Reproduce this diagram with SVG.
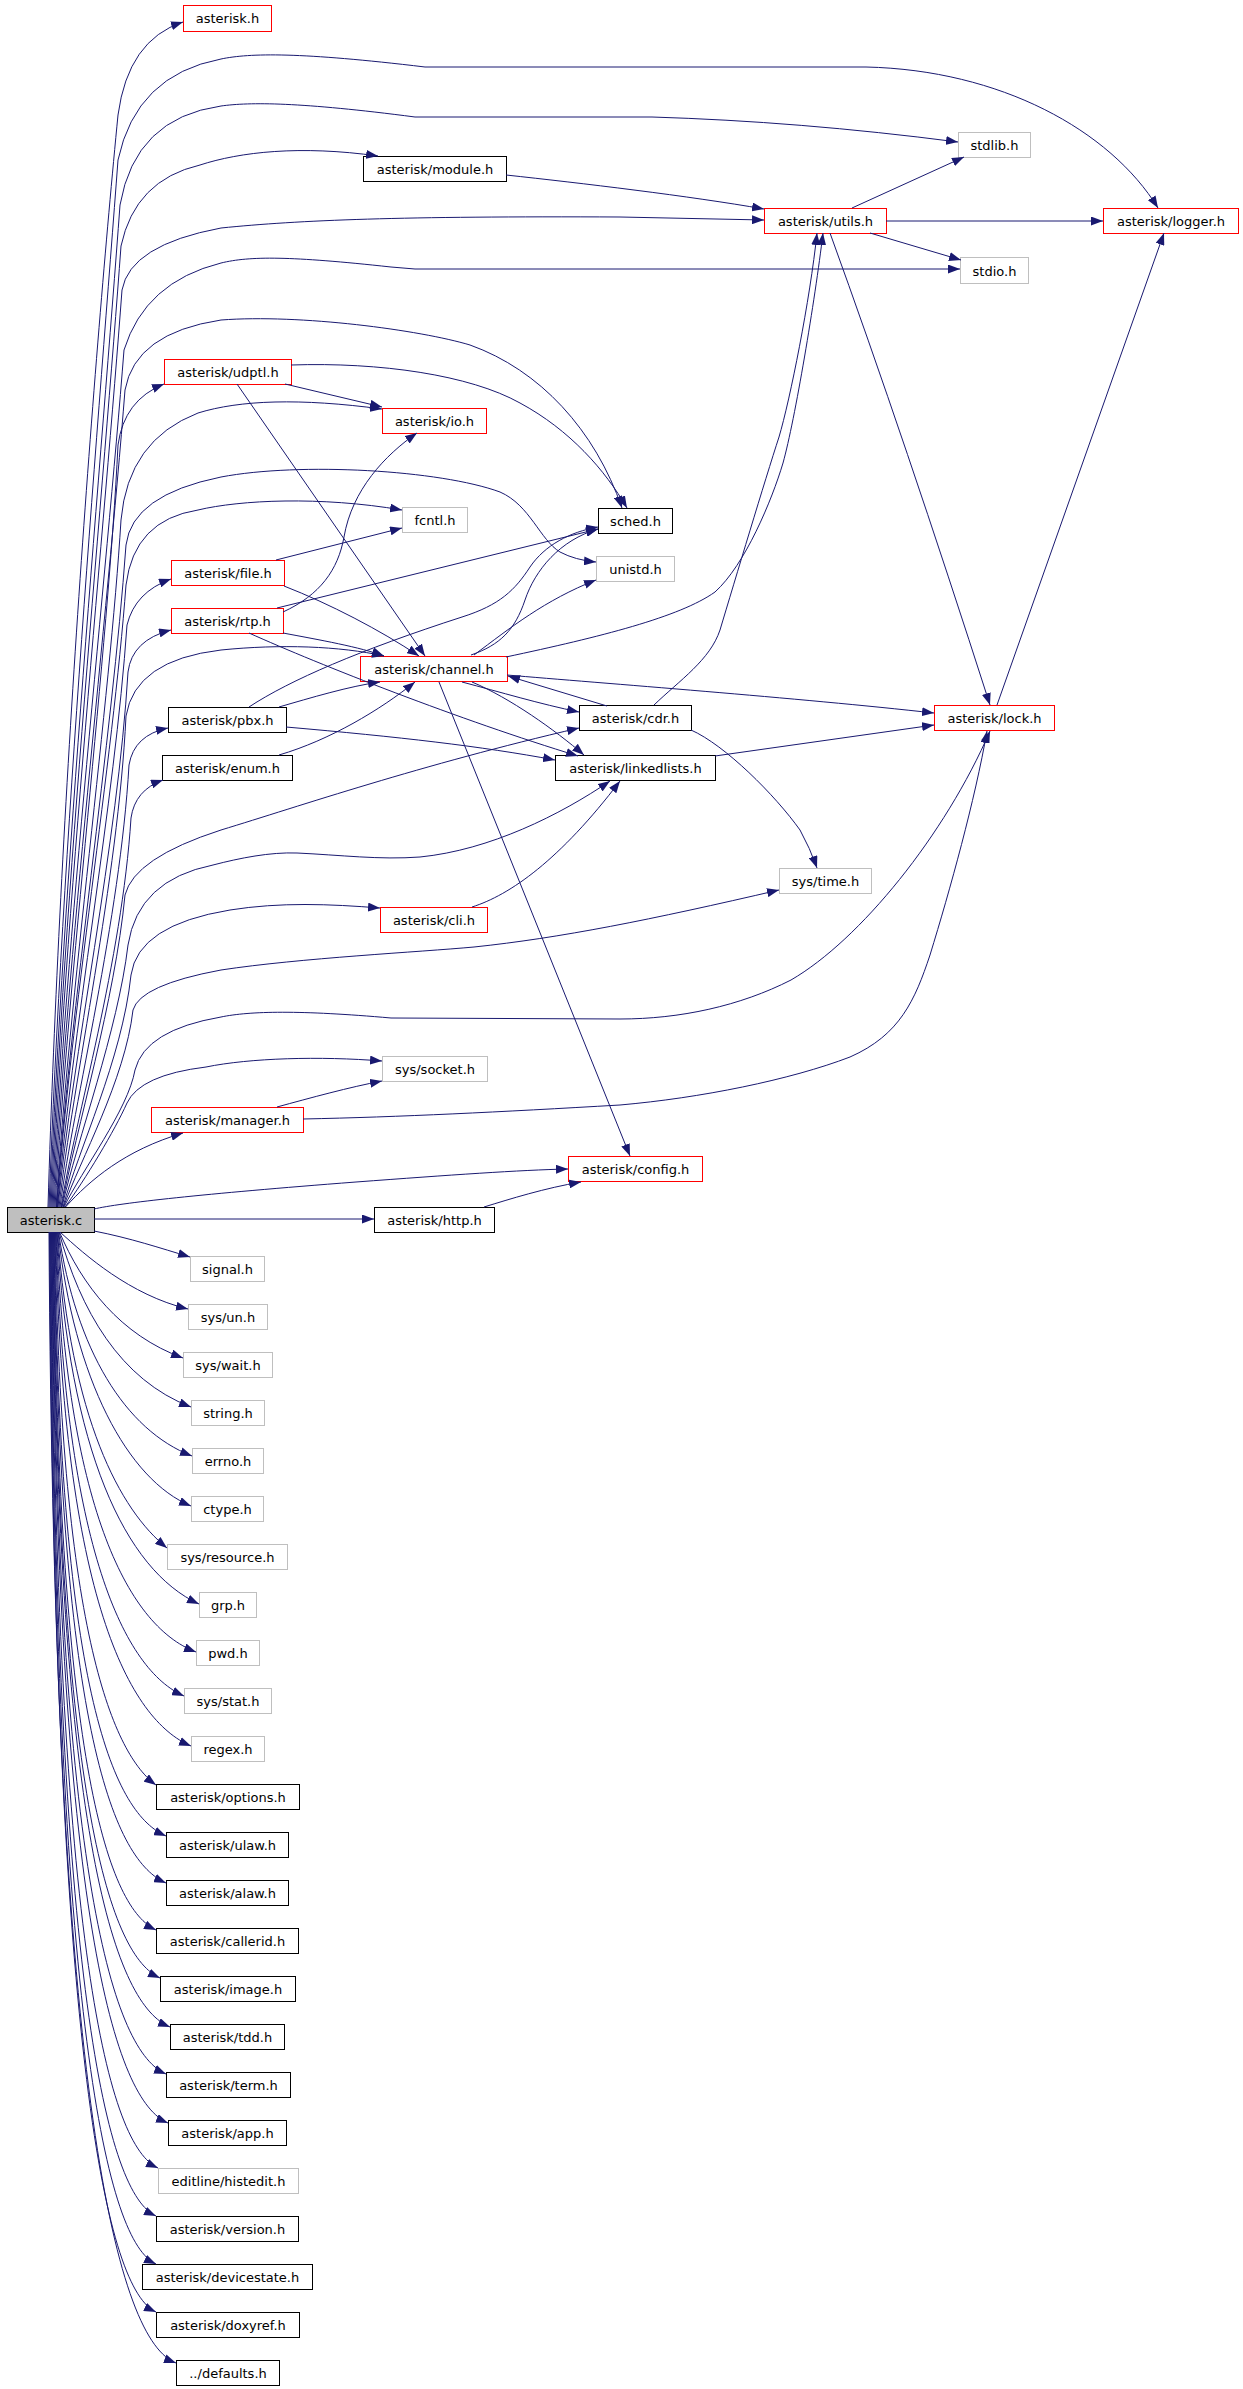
<svg xmlns="http://www.w3.org/2000/svg" width="1243" height="2389" viewBox="0 0 1243 2389">
<style>
.n rect{fill:#fff;stroke-width:1}
.r rect{stroke:#ff0000}
.k rect{stroke:#000}
.g rect{stroke:#bfbfbf}
.c rect{fill:#bfbfbf;stroke:#000}
text{font-family:"DejaVu Sans","Liberation Sans",sans-serif;font-size:13px;text-anchor:middle;fill:#000}
#edges path{fill:none;stroke:#191970;stroke-width:1;marker-end:url(#a)}
</style>
<defs>
<marker id="a" markerUnits="userSpaceOnUse" markerWidth="12" markerHeight="9" refX="12" refY="4.5" orient="auto" viewBox="0 0 12 9"><path d="M0,0L12,4.5L0,9z" fill="#191970"/></marker>
</defs>
<rect width="1243" height="2389" fill="#fff"/>
<g id="n_asterisk_h" class="n r"><rect x="183.5" y="5.5" width="88" height="26"/><text x="227.5" y="23">asterisk.h</text></g>
<g id="n_module_h" class="n k"><rect x="363.5" y="156.5" width="143" height="25"/><text x="435" y="174">asterisk/module.h</text></g>
<g id="n_stdlib_h" class="n g"><rect x="958.5" y="132.5" width="72" height="25"/><text x="994.5" y="150">stdlib.h</text></g>
<g id="n_utils_h" class="n r"><rect x="764.5" y="208.5" width="122" height="25"/><text x="825.5" y="226">asterisk/utils.h</text></g>
<g id="n_logger_h" class="n r"><rect x="1103.5" y="208.5" width="135" height="25"/><text x="1171" y="226">asterisk/logger.h</text></g>
<g id="n_stdio_h" class="n g"><rect x="960.5" y="257.5" width="68" height="26"/><text x="994.5" y="275.5">stdio.h</text></g>
<g id="n_udptl_h" class="n r"><rect x="164.5" y="359.5" width="127" height="25"/><text x="228" y="377">asterisk/udptl.h</text></g>
<g id="n_io_h" class="n r"><rect x="382.5" y="408.5" width="104" height="25"/><text x="434.5" y="426">asterisk/io.h</text></g>
<g id="n_fcntl_h" class="n g"><rect x="402.5" y="507.5" width="65" height="25"/><text x="435" y="525">fcntl.h</text></g>
<g id="n_sched_h" class="n k"><rect x="598.5" y="508.5" width="74" height="25"/><text x="635.5" y="526">sched.h</text></g>
<g id="n_unistd_h" class="n g"><rect x="596.5" y="556.5" width="78" height="25"/><text x="635.5" y="574">unistd.h</text></g>
<g id="n_file_h" class="n r"><rect x="171.5" y="560.5" width="113" height="25"/><text x="228" y="578">asterisk/file.h</text></g>
<g id="n_rtp_h" class="n r"><rect x="171.5" y="608.5" width="112" height="25"/><text x="227.5" y="626">asterisk/rtp.h</text></g>
<g id="n_channel_h" class="n r"><rect x="360.5" y="656.5" width="147" height="25"/><text x="434" y="674">asterisk/channel.h</text></g>
<g id="n_pbx_h" class="n k"><rect x="168.5" y="707.5" width="118" height="25"/><text x="227.5" y="725">asterisk/pbx.h</text></g>
<g id="n_cdr_h" class="n k"><rect x="579.5" y="705.5" width="112" height="25"/><text x="635.5" y="723">asterisk/cdr.h</text></g>
<g id="n_enum_h" class="n k"><rect x="162.5" y="755.5" width="130" height="25"/><text x="227.5" y="773">asterisk/enum.h</text></g>
<g id="n_linkedlists_h" class="n k"><rect x="555.5" y="755.5" width="160" height="25"/><text x="635.5" y="773">asterisk/linkedlists.h</text></g>
<g id="n_lock_h" class="n r"><rect x="934.5" y="705.5" width="120" height="25"/><text x="994.5" y="723">asterisk/lock.h</text></g>
<g id="n_cli_h" class="n r"><rect x="380.5" y="907.5" width="107" height="25"/><text x="434" y="925">asterisk/cli.h</text></g>
<g id="n_systime_h" class="n g"><rect x="779.5" y="868.5" width="92" height="25"/><text x="825.5" y="886">sys/time.h</text></g>
<g id="n_syssocket_h" class="n g"><rect x="382.5" y="1056.5" width="105" height="25"/><text x="435" y="1074">sys/socket.h</text></g>
<g id="n_manager_h" class="n r"><rect x="151.5" y="1107.5" width="152" height="25"/><text x="227.5" y="1125">asterisk/manager.h</text></g>
<g id="n_config_h" class="n r"><rect x="568.5" y="1156.5" width="134" height="25"/><text x="635.5" y="1174">asterisk/config.h</text></g>
<g id="n_asterisk_c" class="n c"><rect x="7.5" y="1207.5" width="87" height="25"/><text x="51" y="1225">asterisk.c</text></g>
<g id="n_http_h" class="n k"><rect x="374.5" y="1207.5" width="120" height="25"/><text x="434.5" y="1225">asterisk/http.h</text></g>
<g id="n_signal_h" class="n g"><rect x="190.5" y="1256.5" width="74" height="25"/><text x="227.5" y="1274">signal.h</text></g>
<g id="n_sysun_h" class="n g"><rect x="188.5" y="1304.5" width="79" height="25"/><text x="228" y="1322">sys/un.h</text></g>
<g id="n_syswait_h" class="n g"><rect x="183.5" y="1352.5" width="89" height="25"/><text x="228" y="1370">sys/wait.h</text></g>
<g id="n_string_h" class="n g"><rect x="191.5" y="1400.5" width="73" height="25"/><text x="228" y="1418">string.h</text></g>
<g id="n_errno_h" class="n g"><rect x="192.5" y="1448.5" width="71" height="25"/><text x="228" y="1466">errno.h</text></g>
<g id="n_ctype_h" class="n g"><rect x="191.5" y="1496.5" width="72" height="25"/><text x="227.5" y="1514">ctype.h</text></g>
<g id="n_sysresource_h" class="n g"><rect x="167.5" y="1544.5" width="120" height="25"/><text x="227.5" y="1562">sys/resource.h</text></g>
<g id="n_grp_h" class="n g"><rect x="199.5" y="1592.5" width="57" height="25"/><text x="228" y="1610">grp.h</text></g>
<g id="n_pwd_h" class="n g"><rect x="196.5" y="1640.5" width="63" height="25"/><text x="228" y="1658">pwd.h</text></g>
<g id="n_sysstat_h" class="n g"><rect x="184.5" y="1688.5" width="87" height="25"/><text x="228" y="1706">sys/stat.h</text></g>
<g id="n_regex_h" class="n g"><rect x="191.5" y="1736.5" width="73" height="25"/><text x="228" y="1754">regex.h</text></g>
<g id="n_options_h" class="n k"><rect x="156.5" y="1784.5" width="143" height="25"/><text x="228" y="1802">asterisk/options.h</text></g>
<g id="n_ulaw_h" class="n k"><rect x="166.5" y="1832.5" width="122" height="25"/><text x="227.5" y="1850">asterisk/ulaw.h</text></g>
<g id="n_alaw_h" class="n k"><rect x="166.5" y="1880.5" width="122" height="25"/><text x="227.5" y="1898">asterisk/alaw.h</text></g>
<g id="n_callerid_h" class="n k"><rect x="156.5" y="1928.5" width="142" height="25"/><text x="227.5" y="1946">asterisk/callerid.h</text></g>
<g id="n_image_h" class="n k"><rect x="160.5" y="1976.5" width="135" height="25"/><text x="228" y="1994">asterisk/image.h</text></g>
<g id="n_tdd_h" class="n k"><rect x="170.5" y="2024.5" width="114" height="25"/><text x="227.5" y="2042">asterisk/tdd.h</text></g>
<g id="n_term_h" class="n k"><rect x="166.5" y="2072.5" width="124" height="25"/><text x="228.5" y="2090">asterisk/term.h</text></g>
<g id="n_app_h" class="n k"><rect x="168.5" y="2120.5" width="118" height="25"/><text x="227.5" y="2138">asterisk/app.h</text></g>
<g id="n_histedit_h" class="n g"><rect x="158.5" y="2168.5" width="140" height="25"/><text x="228.5" y="2186">editline/histedit.h</text></g>
<g id="n_version_h" class="n k"><rect x="156.5" y="2216.5" width="142" height="25"/><text x="227.5" y="2234">asterisk/version.h</text></g>
<g id="n_devicestate_h" class="n k"><rect x="142.5" y="2264.5" width="170" height="25"/><text x="227.5" y="2282">asterisk/devicestate.h</text></g>
<g id="n_doxyref_h" class="n k"><rect x="156.5" y="2312.5" width="143" height="25"/><text x="228" y="2330">asterisk/doxyref.h</text></g>
<g id="n_defaults_h" class="n k"><rect x="176.5" y="2360.5" width="103" height="25"/><text x="228" y="2378">../defaults.h</text></g>
<g id="edges">
<path d="M48,1207 C60,800 95,350 118,115 Q128,40 183,22"/>
<path d="M49,1207 C62,850 100,400 118,160 Q136,75 221,59 C250,53 300,52 425,67 L866,67 C1000,70 1110,130 1158,208"/>
<path d="M50,1207 C63,880 102,450 120,205 Q135,118 221,106 C250,102 300,102 415,117 L652,117 C750,120 850,128 958,142"/>
<path d="M51,1207 C64,900 104,480 121,246 Q135,180 200,165 C240,152 300,145 378,156"/>
<path d="M52,1207 C65,920 105,520 122,290 Q130,245 221,228 C300,220 400,216 620,217 L764,220"/>
<path d="M53,1207 C66,940 106,580 124,350 Q145,282 221,263 C250,256 290,256 391,267 L415,269 L960,269"/>
<path d="M54,1207 C67,960 107,620 125,390 Q135,333 221,320 C300,314 420,330 470,345 C540,370 595,430 622,508"/>
<path d="M55,1207 C68,980 108,650 118,445 Q124,400 164,384"/>
<path d="M56,1207 C69,1000 110,700 121,520 Q128,440 198,413 C240,400 300,398 382,409"/>
<path d="M56.5,1207 C70,1010 112,740 126,545 Q132,495 221,477 C300,462 440,470 500,492 C530,505 540,540 560,552 Q575,560 596,562"/>
<path d="M57,1207 C70,1020 113,760 126,585 Q134,520 198,510 C240,500 320,496 402,510"/>
<path d="M57.5,1207 C71,1040 115,800 127,625 Q135,592 171,579"/>
<path d="M58,1207 C72,1060 118,840 128,672 Q132,640 171,630"/>
<path d="M59,1207 C73,1080 118,880 126,716 Q135,660 221,650 C280,644 340,646 384,656"/>
<path d="M60,1207 C74,1100 120,920 129,765 Q134,735 168,728"/>
<path d="M61,1207 C75,1120 122,960 131,818 Q135,790 163,780"/>
<path d="M61.5,1207 C76,1130 115,1000 125,895 Q134,858 221,830 C300,806 420,765 579,728"/>
<path d="M62,1207 C77,1140 118,1030 128,945 Q138,880 213,865 C240,858 270,852 297,853 C340,855 380,860 420,857 C490,850 560,815 610,781"/>
<path d="M63,1207 C78,1150 122,1060 131,975 Q138,925 230,910 C280,902 330,904 380,908"/>
<path d="M63.5,1207 C80,1160 125,1080 133,1010 Q140,985 221,970 C300,958 420,952 474,947 C560,938 650,920 779,890"/>
<path d="M64,1207 C82,1170 128,1110 135,1070 Q145,1030 221,1017 C250,1011 300,1010 391,1018 L620,1019 C680,1019 740,1006 791,980 C860,940 945,835 990,731"/>
<path d="M65,1207 C85,1180 115,1130 127,1103 Q140,1075 206,1067 C250,1058 320,1056 382,1061"/>
<path d="M65.5,1207 C90,1180 125,1150 183,1133"/>
<path d="M94,1209 C120,1203 200,1194 356,1182 C450,1175 520,1170 568,1169"/>
<path d="M94,1219 L374,1219"/>
<path d="M94,1231 C130,1238 160,1248 190,1257"/>
<path d="M60,1232 C85,1255 130,1295 188,1309"/>
<path d="M59.5,1232 C82,1285 120,1335 183,1358"/>
<path d="M59,1232 C80,1310 120,1380 191,1407"/>
<path d="M58.5,1232 C76,1350 125,1430 192,1456"/>
<path d="M58,1232 C74,1380 128,1480 191,1506"/>
<path d="M57.5,1232 C71,1420 120,1510 167,1548"/>
<path d="M57,1232 C69,1450 125,1570 199,1604"/>
<path d="M56.5,1232 C67,1500 125,1625 196,1652"/>
<path d="M56,1232 C65,1550 125,1670 184,1696"/>
<path d="M55.5,1232 C63,1600 130,1720 191,1746"/>
<path d="M55,1232 C61,1640 115,1755 156,1785"/>
<path d="M54.5,1232 C59.5,1703 116,1814 166,1836"/>
<path d="M54,1232 C59,1740 116,1861 166,1883"/>
<path d="M53.5,1232 C58.5,1776 110,1908 156,1930"/>
<path d="M53,1232 C58,1814 112,1956 160,1978"/>
<path d="M52.5,1232 C57.5,1852 117,2005 170,2027"/>
<path d="M52,1232 C57,1889 115,2052 166,2074"/>
<path d="M51.5,1232 C56.5,1927 116,2101 168,2123"/>
<path d="M51,1232 C56,1962 110,2146 158,2168"/>
<path d="M50.5,1232 C55.5,2000 108,2194 156,2216"/>
<path d="M50,1232 C55,2037 108,2242 156,2264"/>
<path d="M49.5,1232 C54.5,2074 108,2290 156,2312"/>
<path d="M49,1232 C54,2114 119,2341 176,2363"/>
<path d="M506,175 C580,183 690,196 764,209"/>
<path d="M852,208 L964,157"/>
<path d="M870,233 L961,260"/>
<path d="M886,221 L1103,221"/>
<path d="M830,233 Q905,440 990,705"/>
<path d="M997,705 L1164,233"/>
<path d="M285,384 L382,407"/>
<path d="M291,365 C380,362 470,375 520,403 C570,430 605,470 627,508"/>
<path d="M237,384 L425,656"/>
<path d="M276,560 L402,528"/>
<path d="M284,586 C330,604 380,630 419,656"/>
<path d="M283,612 C320,595 338,570 344,537 C352,490 385,455 417,433"/>
<path d="M277,608 L598,529"/>
<path d="M283,633 C320,640 360,647 384,656"/>
<path d="M249,633 C320,665 460,720 578,756"/>
<path d="M471,655 C500,645 515,630 525,600 C535,570 560,540 598,529"/>
<path d="M474,655 C510,628 545,600 596,580"/>
<path d="M506,657 C600,637 680,617 715,592 C745,565 772,500 783,463 C795,420 815,300 823,233"/>
<path d="M507,675 C600,683 800,698 934,713"/>
<path d="M462,682 C500,692 540,704 579,712"/>
<path d="M472,682 C510,698 555,730 584,755"/>
<path d="M439,682 L630,1156"/>
<path d="M607,706 L508,676"/>
<path d="M654,705 C680,680 710,660 720,630 C735,580 765,480 779,437 C790,400 810,300 817,233"/>
<path d="M691,730 C725,745 775,795 800,830 Q810,848 817,868"/>
<path d="M279,707 C310,698 350,686 380,682"/>
<path d="M249,707 C290,680 360,650 462,617 C500,605 515,590 530,567 C545,545 570,532 598,527"/>
<path d="M286,727 C400,737 480,746 555,760"/>
<path d="M279,755 C330,740 380,710 415,682"/>
<path d="M715,756 L934,725"/>
<path d="M472,907 C510,895 560,860 620,781"/>
<path d="M277,1107 C310,1098 350,1087 382,1081"/>
<path d="M303,1119 C400,1117 500,1112 620,1105 C700,1098 790,1080 850,1057 C900,1035 915,1000 930,955 C950,890 975,800 987,731"/>
<path d="M484,1207 C510,1199 545,1188 581,1182"/>
</g>
</svg>
